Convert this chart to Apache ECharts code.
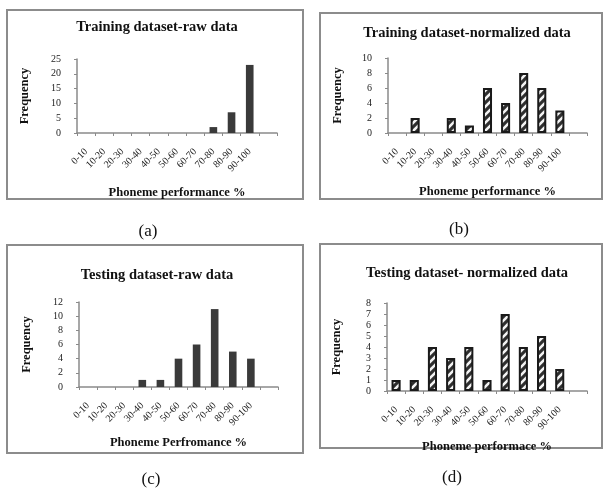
<!DOCTYPE html>
<html>
<head>
<meta charset="utf-8">
<script src="https://cdn.jsdelivr.net/npm/echarts@6/dist/echarts.min.js"></script>
<style>
html,body{margin:0;padding:0;background:#fff;}
#chart{width:604px;height:496px;}
</style>
</head>
<body>
<div id="chart"></div>
<script>
// ---- data ----
var categories = ['0-10','10-20','20-30','30-40','40-50','50-60','60-70','70-80','80-90','90-100',''];
var trainRaw  = [0,0,0,0,0,0,0,2,7,23];
var trainNorm = [0,2,0,2,1,6,4,8,6,3];
var testRaw   = [0,0,0,1,1,4,6,11,5,4];
var testNorm  = [1,1,4,3,4,1,7,4,5,2];
var titles = ['Training dataset-raw data','Training dataset-normalized data','Testing dataset-raw data','Testing dataset- normalized data'];
var xNames = ['Phoneme performance %','Phoneme performance %','Phoneme Perfromance %','Phoneme performace %'];
var yName = 'Frequency';
var captions = ['(a)','(b)','(c)','(d)'];
var yMax = [25,10,12,8];
var yStep = [5,2,2,1];

// ---- hatch pattern (dark fill with light diagonal stripes) ----
function hatch(){
  var s = 8;
  var c = document.createElement('canvas');
  c.width = s; c.height = s;
  var g = c.getContext('2d');
  g.fillStyle = '#2f2f2f'; g.fillRect(0,0,s,s);
  g.strokeStyle = '#f4f4f4'; g.lineWidth = 2.6;
  g.beginPath();
  g.moveTo(-1,s+1); g.lineTo(s+1,-1);
  g.moveTo(-s-1,s+1); g.lineTo(1,-1);
  g.moveTo(-1,2*s+1); g.lineTo(2*s+1,-1);
  g.stroke();
  return c;
}
var pat = hatch();

var font = 'Liberation Serif, Times New Roman, serif';
var grids = [
  {left:77, top:59, width:200, height:74},
  {left:388, top:58, width:199, height:75},
  {left:79, top:302, width:199, height:85},
  {left:387, top:303, width:200, height:88}
];
var frames = [
  {x:7,y:10,w:296,h:189},
  {x:320,y:13,w:282,h:186},
  {x:7,y:245,w:296,h:208},
  {x:320,y:244,w:282,h:204}
];
var titlePos = [[157,27],[467,33],[157,275],[467,273]];
var capPos = [[148,232],[459,230],[151,480],[452,478]];
var nameGaps = [53,52,49,49];
var seriesData = [trainRaw, trainNorm, testRaw, testNorm];

var xAxes = [], yAxes = [], series = [], graphics = [];
for (var i=0;i<4;i++){
  xAxes.push({
    type:'category', gridIndex:i, data:categories,
    axisLine:{lineStyle:{color:'#8a8a8a', width:1.5}},
    axisTick:{show:true, length:3, lineStyle:{color:'#8a8a8a'}},
    axisLabel:{rotate:45, fontSize:10, color:'#222', fontFamily:font, margin:17, interval:0},
    name:xNames[i], nameLocation:'middle', nameGap:nameGaps[i],
    nameTextStyle:{fontSize:12.5, fontWeight:'bold', fontFamily:font, color:'#111'}
  });
  yAxes.push({
    type:'value', gridIndex:i, min:0, max:yMax[i], interval:yStep[i],
    splitLine:{show:false},
    axisLine:{show:true, lineStyle:{color:'#8a8a8a', width:1.5}},
    axisTick:{show:true, length:3, lineStyle:{color:'#8a8a8a'}},
    axisLabel:{fontSize:10, color:'#222', fontFamily:font, margin:16},
    name:yName, nameLocation:'middle', nameRotate:90, nameGap:(i%2===0?46:44),
    nameTextStyle:{fontSize:12.5, fontWeight:'bold', fontFamily:font, color:'#111'}
  });
  var hatched = (i%2===1);
  series.push({
    type:'bar', xAxisIndex:i, yAxisIndex:i,
    data:seriesData[i].map(function(v){ return v === 0 ? '-' : v; }),
    barWidth: hatched ? '50%' : '42%',
    itemStyle: hatched ? {color:{image:pat, repeat:'repeat'}, borderColor:'#1a1a1a', borderWidth:2}
                       : {color:'#3a3a3a'},
    silent:true
  });
  graphics.push({type:'rect', shape:{x:frames[i].x, y:frames[i].y, width:frames[i].w, height:frames[i].h},
    style:{fill:'none', stroke:'#8c8c8c', lineWidth:2}});
  graphics.push({type:'text', x:titlePos[i][0], y:titlePos[i][1],
    style:{text:titles[i], font:'bold 14.5px '+font, fill:'#111', textAlign:'center', textVerticalAlign:'middle'}});
  graphics.push({type:'text', x:capPos[i][0], y:capPos[i][1],
    style:{text:captions[i], font:'17px '+font, fill:'#111', textAlign:'center', textVerticalAlign:'middle'}});
}

var chart = echarts.init(document.getElementById('chart'), null, {renderer:'canvas'});
chart.setOption({
  animation:false,
  backgroundColor:'#fff',
  grid:grids,
  xAxis:xAxes,
  yAxis:yAxes,
  series:series,
  graphic:graphics
});
</script>
</body>
</html>
